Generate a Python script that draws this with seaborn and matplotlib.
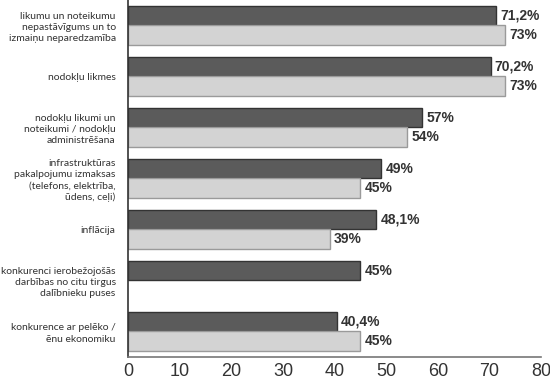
import numpy as np
import pandas as pd
import seaborn as sns
import matplotlib.pyplot as plt

# ----------------------------------------
# data
# ----------------------------------------
categories = [
    "likumu un noteikumu\nnepastāvīgums un to\nizmaiņu neparedzamība",
    "nodokļu likmes",
    "nodokļu likumi un\nnoteikumi / nodokļu\nadministrēšana",
    "infrastruktūras\npakalpojumu izmaksas\n(telefons, elektrība,\nūdens, ceļi)",
    "inflācija",
    "konkurenci ierobežojošās\ndarbības no citu tirgus\ndalībnieku puses",
    "konkurence ar pelēko /\nēnu ekonomiku",
]
series_names = ["A", "B"]
values_a = [71.2, 70.2, 57, 49, 48.1, 45, 40.4]
values_b = [73, 73, 54, 45, 39, np.nan, 45]
x_ticks = [0, 10, 20, 30, 40, 50, 60, 70, 80]

df = pd.DataFrame({
    "category": categories * 2,
    "series": [series_names[0]] * len(categories) + [series_names[1]] * len(categories),
    "value": values_a + values_b,
})

sns.set_theme(style="white")
plt.rcParams['font.family'] = ['Liberation Sans', 'DejaVu Sans']

fig = plt.figure(figsize=(5.5, 3.81), dpi=100)
ax = fig.add_axes([0.233, 0.063, 0.751, 0.937])

# pick the narrowest family for the long category labels
renderer = fig.canvas.get_renderer()
longest = "konkurenci ierobežojošās"
widths = {}
for fam in ["Roboto", "Liberation Sans", "Noto Sans", "Lato", "Open Sans", "Inter"]:
    t = fig.text(0, 0, longest, family=fam, fontsize=9)
    widths[fam] = t.get_window_extent(renderer).width
    t.remove()
print(widths)
label_font = min(widths, key=widths.get)
label_size = min(9.5, 9 * 116 / widths[label_font])
print(label_font, label_size)

sns.barplot(
    data=df, y="category", x="value", hue="series", order=categories,
    hue_order=series_names, orient="h", palette=["#5b5b5b", "#d3d3d3"],
    width=0.78, legend=False, ax=ax, err_kws={"linewidth": 0},
)

edge_colors = ["#333333", "#9a9a9a"]
for cont, ec in zip(ax.containers, edge_colors):
    labels = []
    for p in cont.patches:
        p.set_edgecolor(ec)
        p.set_linewidth(1.0)
        w = p.get_width()
        labels.append("" if np.isnan(w) else f"{w:g}".replace(".", ",") + "%")
    ax.bar_label(cont, labels=labels, padding=3, fontsize=10,
                 fontweight="bold", color="#333333")

ax.set_xlim(0, 80)
ax.set_ylim(6.5, -0.5)
ax.set_xticks(x_ticks)
ax.set_xticklabels([str(t) for t in x_ticks], fontsize=13, color="#333333")
ax.tick_params(axis="y", length=0, pad=9)
ax.tick_params(axis="x", length=0, pad=4)
for lbl in ax.get_yticklabels():
    lbl.set_horizontalalignment("right")
    lbl.set_multialignment("right")
    lbl.set_linespacing(1.3)
    lbl.set_color("#333333")
    lbl.set_family([label_font, "DejaVu Sans"])
    lbl.set_fontsize(label_size)
ax.set_xlabel("")
ax.set_ylabel("")

sns.despine(ax=ax, top=True, right=True)
ax.spines["left"].set_color("#333333")
ax.spines["bottom"].set_color("#777777")
ax.spines["left"].set_linewidth(1.2)
ax.spines["bottom"].set_linewidth(1.2)

fig.savefig("out.png", dpi=100)
